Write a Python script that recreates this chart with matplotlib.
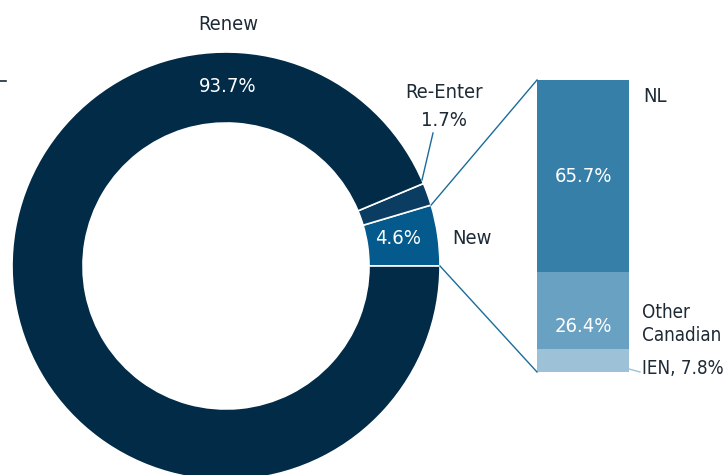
import matplotlib.pyplot as plt
from matplotlib.patches import Rectangle
import numpy as np

plt.rcParams['font.family'] = ['DejaVu Sans']
plt.rcParams['font.stretch'] = 'condensed'

# donut data (order drawn counter-clockwise from 3 o'clock)
donut_labels = ['New', 'Re-Enter', 'Renew']
donut_values = [4.6, 1.7, 93.7]
donut_colors = ['#045a8d', '#0b3d63', '#022b48']

# breakdown of "New"
bar_labels = ['NL', 'Other Canadian', 'IEN']
bar_values = [65.7, 26.4, 7.8]
bar_colors = ['#367fa9', '#68a1c1', '#9dc1d7']

fig = plt.figure(figsize=(7.26, 4.75), dpi=100)
ax = fig.add_axes([0, 0, 1, 1])

cx, cy, R = 226, 266, 214
wedges, _ = ax.pie(donut_values, colors=donut_colors, startangle=0, counterclock=False,
                   radius=R, center=(cx, cy), frame=True,
                   wedgeprops=dict(width=71, edgecolor='white', linewidth=1.2))
ax.set_xlim(0, 726)
ax.set_ylim(475, 0)
ax.set_aspect('equal')
ax.axis('off')

# stacked bar for New breakdown
bx, bw, btop, bh = 537, 92, 80, 292
y = btop
bar_mid = []
for v, c in zip(bar_values, bar_colors):
    h = bh * v / sum(bar_values)
    ax.add_patch(Rectangle((bx, y), bw, h, facecolor=c, edgecolor='none'))
    bar_mid.append(y + h / 2)
    y += h

# connector lines from the New slice to the bar
a_new = np.deg2rad(-360 * donut_values[0] / 100)
ax.plot([cx + R * np.cos(a_new), bx], [cy + R * np.sin(a_new), btop], color='#1c6b9c', lw=1)
ax.plot([cx + R, bx], [cy, btop + bh], color='#1c6b9c', lw=1)

txt = '#1e2a36'
fs = 14.5
ax.text(228, 24, 'Renew', ha='center', va='center', fontsize=fs, color=txt)
ax.text(228, 87, f'{donut_values[2]}%', ha='center', va='center', fontsize=fs, color='white')
ax.text(444, 92, 'Re-Enter', ha='center', va='center', fontsize=fs, color=txt)
ax.text(444, 120, f'{donut_values[1]}%', ha='center', va='center', fontsize=fs, color=txt)
ax.plot([433, 422], [133, 180], color='#1c6b9c', lw=1)
ax.text(398, 238, f'{donut_values[0]}%', ha='center', va='center', fontsize=fs, color='white')
ax.text(452, 238, 'New', ha='left', va='center', fontsize=fs, color=txt)

ax.text(643, 97, 'NL', ha='left', va='center', fontsize=fs, color=txt)
ax.text(bx + bw / 2, bar_mid[0], f'{bar_values[0]}%', ha='center', va='center', fontsize=fs, color='white')
ax.text(bx + bw / 2, bar_mid[1] + 16, f'{bar_values[1]}%', ha='center', va='center', fontsize=fs, color='white')
ax.text(642, 324, 'Other\nCanadian', ha='left', va='center', fontsize=13.5, color=txt, linespacing=1.3)
ax.text(642, 368, f'IEN, {bar_values[2]}%', ha='left', va='center', fontsize=13.5, color=txt)
ax.plot([629, 640], [369, 372], color='#9dc1d7', lw=1)

ax.plot([0, 6], [81, 81], color=txt, lw=1.2)

fig.savefig('out.png', dpi=100)
